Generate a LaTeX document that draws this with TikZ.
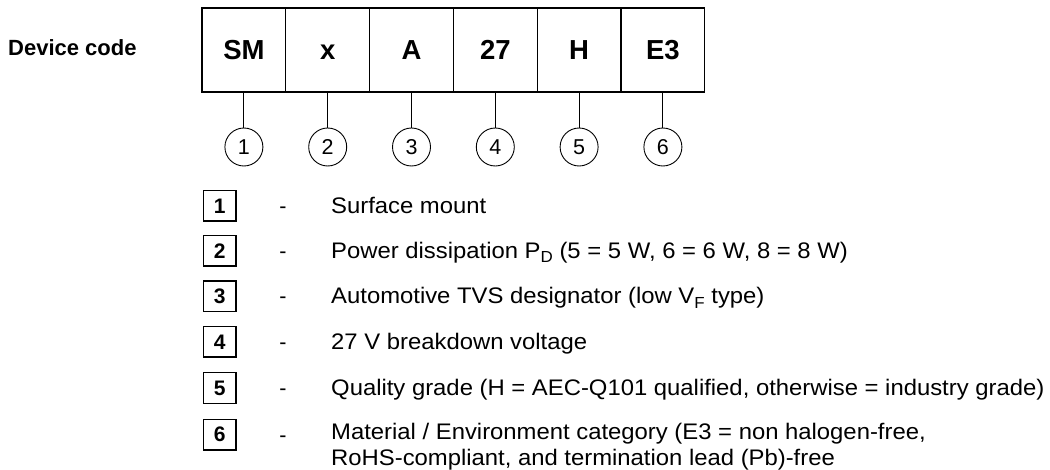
\documentclass[tikz,border=0pt]{standalone}
\usepackage{fontspec}
\setmainfont{Liberation Sans}
\newfontfamily\descfont[FakeStretch=1.06]{Liberation Sans}
\newcommand{\lowsub}[1]{\raisebox{-4.5pt}{\fontsize{16}{16}\selectfont #1}}
\begin{document}
\begin{tikzpicture}[x=1pt,y=-1pt,
  cell/.style={draw, line width=1.3pt, minimum width=83.8pt, minimum height=84pt, inner sep=0pt, text height=19.5pt, text depth=0pt, font=\fontsize{27.5}{30}\selectfont\bfseries},
  num/.style={circle, draw, line width=0.9pt, minimum size=38pt, inner sep=0pt, font=\fontsize{21.5}{24}\selectfont},
  key/.style={draw, line width=1.5pt, minimum width=32.5pt, minimum height=30.5pt, inner sep=0pt, font=\fontsize{21}{24}\selectfont\bfseries},
  desc/.style={anchor=base west, inner sep=0pt, font=\descfont\fontsize{22.5}{26.5}\selectfont, align=left},
  dashmark/.style={anchor=base, inner sep=0pt, font=\fontsize{21.5}{26}\selectfont},
  lead/.style={line width=0.9pt}]
\useasboundingbox (0,0) rectangle (1050,470);
\node[anchor=base west, inner sep=0pt, font=\fontsize{22}{26}\selectfont\bfseries] (title) at (8,56) {Device code};
% code cells
\node[cell] (c1) at (243.9,50) {SM};
\node[cell] (c2) at (327.7,50) {x};
\node[cell] (c3) at (411.5,50) {A};
\node[cell] (c4) at (495.3,50) {27};
\node[cell] (c5) at (579.1,50) {H};
\node[cell] (c6) at (662.9,50) {E3};
% circled numbers
\foreach \i/\x in {1/243.9,2/327.7,3/411.5,4/495.3,5/579.1,6/662.9}{
  \node[num] (n\i) at (\x,147) {\i};
  \draw[lead] (c\i.south) -- (n\i.north);
}
% legend
\foreach \i/\y in {1/206,2/251,3/296.5,4/342,5/388,6/434.5}{
  \node[key] (k\i) at (219.7,\y) {\i};
  \node[dashmark] (d\i) at (283,\y+7.5) {-};
}
\node[desc] (t1) at (331,213.5) {Surface mount};
\node[desc] (t2) at (331,258.5) {Power dissipation P\lowsub{D} (5 = 5 W, 6 = 6 W, 8 = 8 W)};
\node[desc] (t3) at (331,304) {Automotive TVS designator (low V\lowsub{F} type)};
\node[desc] (t4) at (331,349.5) {27 V breakdown voltage};
\node[desc] (t5) at (331,395.5) {Quality grade (H = AEC-Q101 qualified, otherwise = industry grade)};
\node[desc] (t6) at (331,465.5) {Material / Environment category (E3 = non halogen-free,\\RoHS-compliant, and termination lead (Pb)-free};
\end{tikzpicture}
\end{document}
